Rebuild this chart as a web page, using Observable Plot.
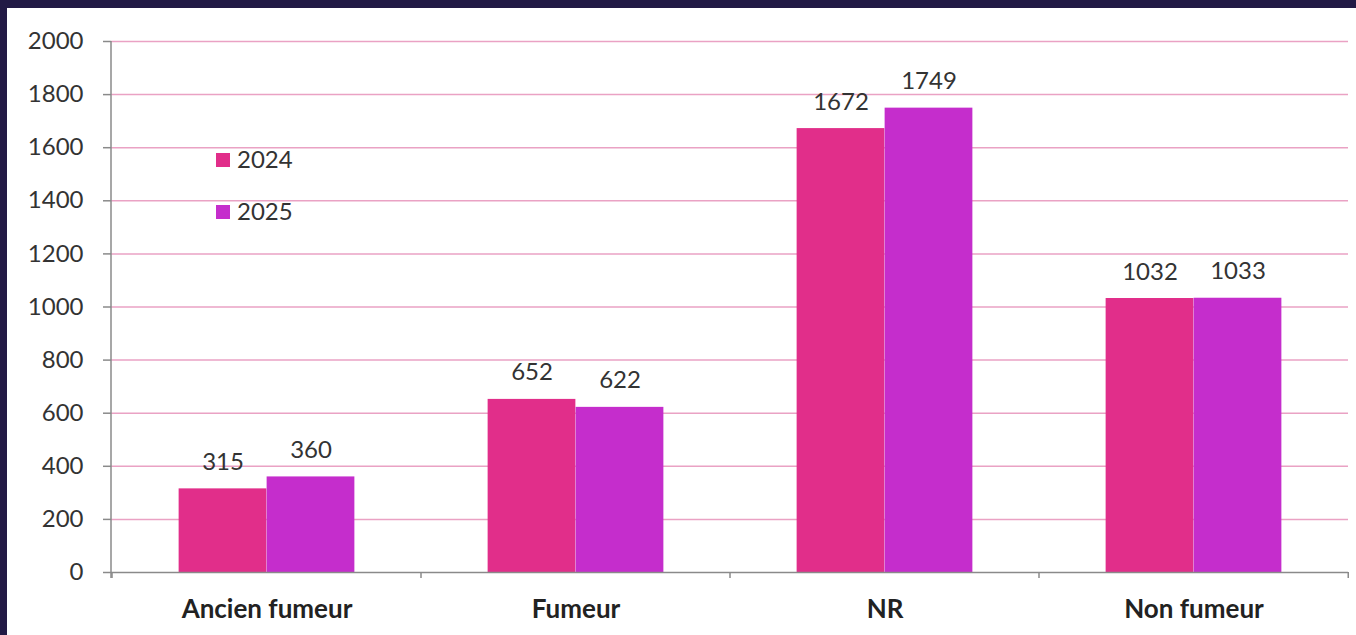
<!DOCTYPE html>
<html>
<head>
<meta charset="utf-8">
<script src="https://cdn.jsdelivr.net/npm/d3@7"></script>
<script src="https://cdn.jsdelivr.net/npm/@observablehq/plot@0.6"></script>
<style>
  html, body { margin: 0; padding: 0; }
  body { width: 1356px; height: 635px; background: #221a45; position: relative; overflow: hidden; font-family: Lato, "Open Sans", sans-serif; }
  #panel { position: absolute; left: 7px; top: 8px; width: 1349px; height: 627px; background: #fff; }
  #chart { position: absolute; left: 0; top: 0; }
  #legend { position: absolute; left: 209px; top: 125px; font-size: 24px; color: #333; line-height: 52px; }
  #legend .sw { display: inline-block; width: 14px; height: 14px; margin-right: 7px; vertical-align: 1px; }
</style>
</head>
<body>
<div id="panel"><div id="chart"></div>
<div id="legend"></div></div>
<script>
const categories = ["Ancien fumeur", "Fumeur", "NR", "Non fumeur"];
const years = ["2024", "2025"];
const values2024 = [315, 652, 1672, 1032];
const values2025 = [360, 622, 1749, 1033];
const yTicks = [0, 200, 400, 600, 800, 1000, 1200, 1400, 1600, 1800, 2000];
const colors = ["#e12e8a", "#c52dcc"];

const rows2024 = categories.map((c, i) => ({category: c, year: years[0], value: values2024[i]}));
const rows2025 = categories.map((c, i) => ({category: c, year: years[1], value: values2025[i]}));

const W = 1349, H = 627, mL = 104, mR = 8, mT = 33, mB = 63;
const bw = (W - mL - mR) / categories.length;
const barW = 88;

function boundaryMarks(index, scales, values, dimensions) {
  const g = d3.create("svg:g").attr("stroke", "#8a8a8a").attr("stroke-width", 1.5);
  const y0 = scales.y(0), yTop = scales.y(2000);
  g.append("line").attr("x1", dimensions.marginLeft).attr("x2", dimensions.marginLeft)
    .attr("y1", yTop).attr("y2", y0 + 6);
  const edges = categories.map(c => scales.x(c));
  edges.push(scales.x(categories[categories.length - 1]) + bw);
  for (const x of edges) {
    g.append("line").attr("x1", x).attr("x2", x).attr("y1", y0).attr("y2", y0 + 6);
  }
  return g.node();
}

const chart = Plot.plot({
  width: W, height: H,
  marginLeft: mL, marginRight: mR, marginTop: mT, marginBottom: mB,
  style: {fontFamily: "Lato, sans-serif", background: "transparent", overflow: "visible"},
  x: {domain: categories, padding: 0, axis: null},
  y: {domain: [0, 2000], axis: null},
  marks: [
    Plot.ruleY(yTicks.filter(d => d > 0), {stroke: "#eaa2c4", strokeWidth: 1.5}),
    Plot.axisY({ticks: yTicks, tickFormat: d => String(d), label: null, tickSize: 8, tickPadding: 20, fontSize: 24, color: "#333", stroke: "#8a8a8a", strokeWidth: 1.5}),
    Plot.barY(rows2024, {x: "category", y: "value", fill: colors[0], insetLeft: bw / 2 - barW, insetRight: bw / 2}),
    Plot.barY(rows2025, {x: "category", y: "value", fill: colors[1], insetLeft: bw / 2, insetRight: bw / 2 - barW}),
    Plot.ruleY([0], {stroke: "#8a8a8a", strokeWidth: 1.5}),
    boundaryMarks,
    Plot.text(rows2024, {x: "category", y: "value", text: d => String(d.value), dx: -barW / 2, dy: -19, lineAnchor: "bottom", fontSize: 24, fill: "#333"}),
    Plot.text(rows2025, {x: "category", y: "value", text: d => String(d.value), dx: barW / 2, dy: -19, lineAnchor: "bottom", fontSize: 24, fill: "#333"}),
    Plot.axisX({tickSize: 0, tickPadding: 27, fontSize: 26, fontWeight: "bold", color: "#222", label: null})
  ]
});
document.getElementById("chart").appendChild(chart);

const legend = document.getElementById("legend");
years.forEach((y, i) => {
  const row = document.createElement("div");
  row.innerHTML = `<span class="sw" style="background:${colors[i]}"></span>${y}`;
  legend.appendChild(row);
});
</script>
</body>
</html>
